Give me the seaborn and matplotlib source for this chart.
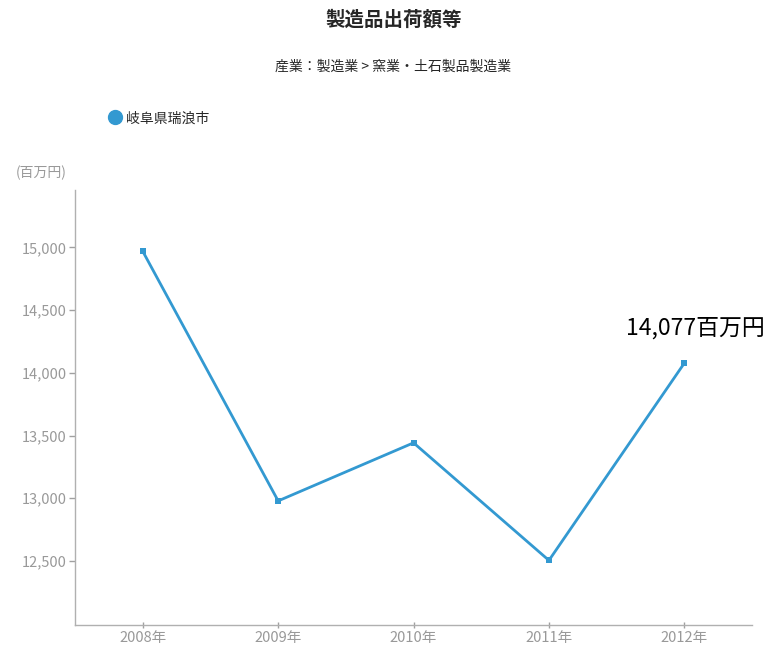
import pandas as pd
import matplotlib
matplotlib.use('Agg')
import matplotlib.pyplot as plt
import seaborn as sns
from matplotlib.ticker import FuncFormatter
from matplotlib.lines import Line2D

years = ['2008年', '2009年', '2010年', '2011年', '2012年']
values = [14968, 12979, 13442, 12505, 14077]
y_ticks = [12500, 13000, 13500, 14000, 14500, 15000]
region = '岐阜県瑞浪市'

sns.set_style('white')
plt.rcParams['font.family'] = ['Noto Sans CJK JP', 'DejaVu Sans']

LINE = '#3399d1'
GREY = '#a0a0a0'

df = pd.DataFrame({'year': years, 'value': values})

fig = plt.figure(figsize=(7.74, 6.46), dpi=100)
ax = fig.add_axes([0.097, 0.0325, 0.8746, 0.674])

sns.lineplot(data=df, x='year', y='value', ax=ax, color=LINE, linewidth=2,
             marker='s', markersize=5, markeredgewidth=0, sort=False)

ax.set_xlim(-0.5, 4.5)
ax.set_ylim(11990, 15460)
ax.set_yticks(y_ticks)
ax.yaxis.set_major_formatter(FuncFormatter(lambda y, _: f'{y:,.0f}'))
ax.set_xlabel('')
ax.set_ylabel('')
for s in ['top', 'right']:
    ax.spines[s].set_visible(False)
for s in ['left', 'bottom']:
    ax.spines[s].set_color('#b0b0b0')
    ax.spines[s].set_linewidth(1)
ax.tick_params(axis='y', colors=GREY, labelsize=10.5, length=4, width=1,
               direction='out', left=True, pad=2)
ax.tick_params(axis='x', colors=GREY, labelsize=10.5, length=5, width=1,
               direction='inout', bottom=True, pad=2)
for lbl in ax.get_yticklabels() + ax.get_xticklabels():
    lbl.set_color('#999999')

# last value label
last = df.iloc[-1]
ax.annotate(f'{last.value:,}百万円', xy=(4, last.value), xytext=(8, 25),
            textcoords='offset points', ha='center', va='center',
            fontsize=16.5, color='black')

fig.text(0.508, 0.97, '製造品出荷額等', ha='center', va='center',
         fontsize=14, fontweight='bold')
fig.text(0.508, 0.896, '産業：製造業 > 窯業・土石製品製造業', ha='center',
         va='center', fontsize=10)
fig.text(0.02, 0.732, '(百万円)', ha='left', va='center', fontsize=10,
         color='#999999')

# legend
handle = Line2D([], [], marker='o', color=LINE, linestyle='none',
                markersize=10)
ax.legend([handle], [region], loc='center left',
          bbox_to_anchor=(0.138, 0.817), bbox_transform=fig.transFigure,
          frameon=False, fontsize=10, handletextpad=0.2, borderaxespad=0,
          borderpad=0, handlelength=1.2)

fig.savefig('out.png', dpi=100)
